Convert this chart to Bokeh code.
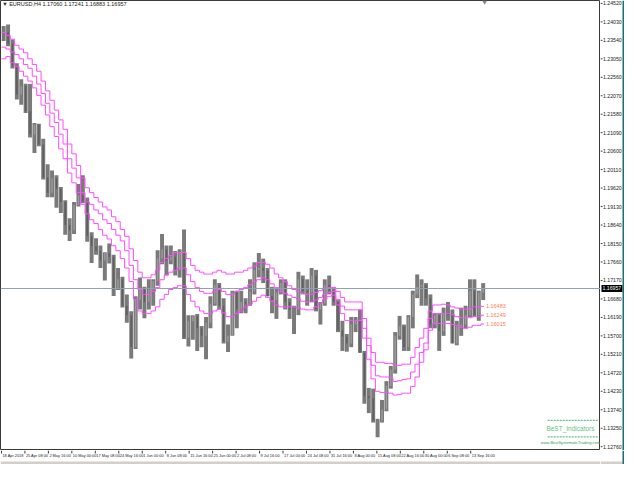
from bokeh.plotting import figure
from bokeh.layouts import column, row
from bokeh.models import Range1d, Span, Label, ColumnDataSource
from bokeh.core.properties import value
from bokeh.embed import file_html
from bokeh.resources import INLINE

# ---- EURUSD H4 (summarised per trading day, 18 Apr 2018 .. 18 Sep 2018) ----
opens = [1.2375, 1.2375, 1.2345, 1.2287, 1.2210, 1.2232, 1.2166, 1.2104, 1.2130,
         1.2078, 1.1990, 1.1950, 1.1988, 1.1960, 1.1925, 1.1864, 1.1850, 1.1917, 1.1943,
         1.1927, 1.1835, 1.1808, 1.1796, 1.1770, 1.1790, 1.1780, 1.1695, 1.1720, 1.1650,
         1.1625, 1.1540, 1.1665,
         1.1693, 1.1660, 1.1693, 1.1715, 1.1775, 1.1800, 1.1770, 1.1780, 1.1745, 1.1790,
         1.1566, 1.1609, 1.1622, 1.1590, 1.1570, 1.1605, 1.1655, 1.1705, 1.1650, 1.1555,
         1.1570,
         1.1685, 1.1640, 1.1660, 1.1656, 1.1688, 1.1745, 1.1750, 1.1743, 1.1675, 1.1665,
         1.1685, 1.1710, 1.1660, 1.1640, 1.1640, 1.1720, 1.1690, 1.1685, 1.1730, 1.1640,
         1.1655, 1.1705,
         1.1690, 1.1660, 1.1585, 1.1568, 1.1550, 1.1600, 1.1610, 1.1525, 1.1410, 1.1405,
         1.1345, 1.1345, 1.1375, 1.1437, 1.1480, 1.1570, 1.1595, 1.1540, 1.1620, 1.1680,
         1.1700, 1.1705, 1.1670,
         1.1600, 1.1625, 1.1583, 1.1630, 1.1625, 1.1550, 1.1595, 1.1600, 1.1625, 1.1690,
         1.1625, 1.1685]
highs = [1.2392, 1.2396, 1.2356, 1.2293, 1.2251, 1.2239, 1.2238, 1.2135, 1.2133,
         1.2093, 1.2025, 1.2009, 1.1996, 1.1965, 1.1930, 1.1882, 1.1925, 1.1973, 1.1996,
         1.1937, 1.1845, 1.1829, 1.1810, 1.1792, 1.1815, 1.1785, 1.1750, 1.1727, 1.1680,
         1.1635, 1.1675, 1.1725,
         1.1700, 1.1720, 1.1720, 1.1797, 1.1840, 1.1810, 1.1810, 1.1795, 1.1800, 1.1852,
         1.1625, 1.1625, 1.1628, 1.1596, 1.1620, 1.1675, 1.1720, 1.1710, 1.1670, 1.1600,
         1.1690,
         1.1690, 1.1690, 1.1670, 1.1720, 1.1765, 1.1790, 1.1775, 1.1750, 1.1700, 1.1695,
         1.1720, 1.1720, 1.1670, 1.1650, 1.1740, 1.1730, 1.1720, 1.1750, 1.1745, 1.1660,
         1.1720, 1.1730,
         1.1700, 1.1665, 1.1610, 1.1575, 1.1620, 1.1620, 1.1640, 1.1530, 1.1432, 1.1430,
         1.1350, 1.1400, 1.1450, 1.1490, 1.1580, 1.1623, 1.1600, 1.1625, 1.1690, 1.1733,
         1.1720, 1.1710, 1.1680,
         1.1630, 1.1630, 1.1645, 1.1660, 1.1640, 1.1610, 1.1645, 1.1650, 1.1720, 1.1720,
         1.1690, 1.1710]
lows = [1.2352, 1.2338, 1.2279, 1.2197, 1.2183, 1.2161, 1.2096, 1.2055, 1.2073,
        1.1985, 1.1938, 1.1938, 1.1910, 1.1896, 1.1838, 1.1822, 1.1840, 1.1913, 1.1922,
        1.1820, 1.1763, 1.1785, 1.1750, 1.1717, 1.1762, 1.1676, 1.1692, 1.1645, 1.1605,
        1.1510, 1.1535, 1.1640,
        1.1617, 1.1640, 1.1650, 1.1703, 1.1760, 1.1730, 1.1760, 1.1730, 1.1725, 1.1562,
        1.1542, 1.1560, 1.1530, 1.1540, 1.1508, 1.1590, 1.1650, 1.1640, 1.1550, 1.1527,
        1.1570,
        1.1590, 1.1630, 1.1630, 1.1650, 1.1680, 1.1725, 1.1710, 1.1675, 1.1630, 1.1615,
        1.1680, 1.1640, 1.1615, 1.1575, 1.1625, 1.1680, 1.1650, 1.1660, 1.1635, 1.1600,
        1.1650, 1.1680,
        1.1650, 1.1580, 1.1530, 1.1528, 1.1540, 1.1580, 1.1525, 1.1390, 1.1365, 1.1340,
        1.1301, 1.1340, 1.1370, 1.1430, 1.1470, 1.1560, 1.1530, 1.1530, 1.1590, 1.1670,
        1.1650, 1.1650, 1.1590,
        1.1590, 1.1530, 1.1570, 1.1610, 1.1550, 1.1545, 1.1570, 1.1590, 1.1620, 1.1620,
        1.1610, 1.1665]
closes = [1.2375, 1.2345, 1.2287, 1.2210, 1.2232, 1.2166, 1.2104, 1.2130, 1.2078,
          1.1990, 1.1950, 1.1988, 1.1960, 1.1925, 1.1864, 1.1850, 1.1917, 1.1943, 1.1927,
          1.1835, 1.1808, 1.1796, 1.1770, 1.1790, 1.1780, 1.1695, 1.1720, 1.1650, 1.1625,
          1.1540, 1.1665, 1.1693,
          1.1660, 1.1693, 1.1715, 1.1775, 1.1800, 1.1770, 1.1780, 1.1745, 1.1790, 1.1566,
          1.1609, 1.1622, 1.1590, 1.1570, 1.1605, 1.1655, 1.1705, 1.1650, 1.1555, 1.1570,
          1.1685,
          1.1640, 1.1660, 1.1656, 1.1688, 1.1745, 1.1750, 1.1743, 1.1675, 1.1665, 1.1685,
          1.1710, 1.1660, 1.1640, 1.1640, 1.1720, 1.1690, 1.1685, 1.1730, 1.1640, 1.1655,
          1.1705, 1.1690,
          1.1660, 1.1585, 1.1568, 1.1550, 1.1600, 1.1610, 1.1525, 1.1410, 1.1405, 1.1345,
          1.1345, 1.1375, 1.1437, 1.1480, 1.1570, 1.1595, 1.1540, 1.1620, 1.1680, 1.1700,
          1.1705, 1.1670, 1.1600,
          1.1625, 1.1583, 1.1630, 1.1625, 1.1550, 1.1595, 1.1600, 1.1625, 1.1690, 1.1625,
          1.1685, 1.16957]

# ---- stepped indicator lines (one value per trading day) ----
upper = [1.2375, 1.2367, 1.2357, 1.2341, 1.2331, 1.2321, 1.2305, 1.2290, 1.2272,
         1.2246, 1.2220, 1.2195, 1.2169, 1.2143, 1.2118, 1.2079, 1.2053, 1.2022, 1.1989,
         1.1963, 1.1950, 1.1937, 1.1925, 1.1912, 1.1904, 1.1886, 1.1873, 1.1852, 1.1834,
         1.1801, 1.1770, 1.1739,
         1.1724, 1.1724, 1.1732, 1.1744, 1.1765, 1.1775, 1.1783, 1.1791, 1.1791, 1.1791,
         1.1775, 1.1757, 1.1744, 1.1739, 1.1734, 1.1734, 1.1739, 1.1744, 1.1739, 1.1734,
         1.1734,
         1.1739, 1.1739, 1.1744, 1.1750, 1.1755, 1.1765, 1.1765, 1.1760, 1.1750, 1.1734,
         1.1724, 1.1714, 1.1703, 1.1693, 1.1688, 1.1683, 1.1680, 1.1680, 1.1685, 1.1690,
         1.1696, 1.1698,
         1.1698, 1.1688, 1.1672, 1.1660, 1.1660, 1.1660, 1.1660, 1.1616, 1.1564, 1.1526,
         1.1500, 1.1500, 1.1497, 1.1497, 1.1492, 1.1492, 1.1495, 1.1495, 1.1513, 1.1539,
         1.1564, 1.1590, 1.1636,
         1.1652, 1.1652, 1.1654, 1.1652, 1.1647, 1.1644, 1.1641, 1.1641, 1.1641, 1.1647,
         1.1647, 1.16483]
middle = [1.2336, 1.2331, 1.2323, 1.2316, 1.2305, 1.2290, 1.2280, 1.2259, 1.2238,
          1.2213, 1.2187, 1.2161, 1.2136, 1.2105, 1.2079, 1.2040, 1.2015, 1.1989, 1.1950,
          1.1925, 1.1919, 1.1904, 1.1894, 1.1878, 1.1868, 1.1852, 1.1837, 1.1822, 1.1796,
          1.1757, 1.1719, 1.1693,
          1.1680, 1.1680, 1.1688, 1.1698, 1.1719, 1.1732, 1.1739, 1.1744, 1.1750, 1.1750,
          1.1732, 1.1714, 1.1698, 1.1688, 1.1683, 1.1683, 1.1688, 1.1693, 1.1688, 1.1680,
          1.1680,
          1.1688, 1.1693, 1.1698, 1.1706, 1.1714, 1.1719, 1.1724, 1.1719, 1.1708, 1.1698,
          1.1688, 1.1683, 1.1678, 1.1672, 1.1667, 1.1662, 1.1660, 1.1660, 1.1665, 1.1672,
          1.1680, 1.1685,
          1.1688, 1.1667, 1.1649, 1.1639, 1.1639, 1.1639, 1.1639, 1.1590, 1.1544, 1.1492,
          1.1464, 1.1461, 1.1461, 1.1459, 1.1449, 1.1451, 1.1454, 1.1456, 1.1474, 1.1495,
          1.1526, 1.1551, 1.1616,
          1.1629, 1.1629, 1.1629, 1.1629, 1.1626, 1.1621, 1.1618, 1.1618, 1.1618, 1.1621,
          1.1621, 1.16249]
lower = [1.2305, 1.2311, 1.2295, 1.2285, 1.2272, 1.2259, 1.2246, 1.2228, 1.2208,
         1.2182, 1.2156, 1.2125, 1.2099, 1.2066, 1.2040, 1.2002, 1.1976, 1.1950, 1.1919,
         1.1894, 1.1878, 1.1868, 1.1852, 1.1837, 1.1827, 1.1809, 1.1796, 1.1775, 1.1750,
         1.1714, 1.1667, 1.1636,
         1.1629, 1.1629, 1.1636, 1.1647, 1.1667, 1.1680, 1.1693, 1.1698, 1.1703, 1.1703,
         1.1680, 1.1662, 1.1647, 1.1636, 1.1629, 1.1629, 1.1636, 1.1641, 1.1631, 1.1621,
         1.1621,
         1.1629, 1.1636, 1.1647, 1.1654, 1.1662, 1.1672, 1.1678, 1.1672, 1.1662, 1.1652,
         1.1647, 1.1647, 1.1647, 1.1647, 1.1644, 1.1641, 1.1639, 1.1639, 1.1647, 1.1657,
         1.1667, 1.1675,
         1.1678, 1.1652, 1.1629, 1.1611, 1.1611, 1.1611, 1.1611, 1.1564, 1.1508, 1.1456,
         1.1423, 1.1420, 1.1420, 1.1418, 1.1413, 1.1415, 1.1418, 1.1418, 1.1436, 1.1461,
         1.1500, 1.1533, 1.1585,
         1.1603, 1.1603, 1.1603, 1.1603, 1.1600, 1.1598, 1.1593, 1.1590, 1.1593, 1.1598,
         1.1598, 1.16015]

# ---- scales ----
price_ticks = [1.24520, 1.24030, 1.23540, 1.23050, 1.22560, 1.22070, 1.21580, 1.21090,
               1.20600, 1.20110, 1.19620, 1.19130, 1.18640, 1.18150, 1.17660, 1.17170,
               1.16680, 1.16190, 1.15700, 1.15210, 1.14720, 1.14230, 1.13740, 1.13250,
               1.12760]
time_labels = ["18 Apr 2018", "25 Apr 08:00", "2 May 16:00", "10 May 00:00", "17 May 08:00",
               "24 May 16:00", "1 Jun 00:00", "8 Jun 08:00", "15 Jun 16:00", "25 Jun 00:00",
               "2 Jul 08:00", "9 Jul 16:00", "17 Jul 00:00", "24 Jul 08:00", "31 Jul 16:00",
               "8 Aug 00:00", "15 Aug 08:00", "22 Aug 16:00", "30 Aug 00:00", "6 Sep 08:00",
               "13 Sep 16:00"]
bars_per_label = 32
bars_per_day = 6
last_price = 1.16957
header = "\u25bc EURUSD,H4  1.17060 1.17241 1.16883 1.16957"

FONT = "Liberation Sans"
AX = "#3a3a3a"
Y0, Y1 = 1.12659, 1.24597
X0, X1 = -1.3, 817
MAIN_W, MAIN_H = 600, 450
SCALE_W, SCALE_H = 24, 14

n = len(highs)
xc = [bars_per_day * d + 3 for d in range(n)]
src = ColumnDataSource(dict(
    x=xc, high=highs, low=lows,
    top=[max(o, c) for o, c in zip(opens, closes)],
    bot=[min(o, c) for o, c in zip(opens, closes)],
    col=["#9a9a9a" if c >= o else "#5e5e5e" for o, c in zip(opens, closes)],
))


def bare(fig):
    fig.xgrid.visible = False
    fig.ygrid.visible = False
    fig.background_fill_color = "white"
    fig.border_fill_color = "white"
    return fig


# ---------------- main chart ----------------
p = bare(figure(width=MAIN_W, height=MAIN_H, x_range=Range1d(X0, X1), y_range=Range1d(Y0, Y1),
                output_backend="svg", toolbar_location=None, x_axis_location=None,
                y_axis_location=None, min_border=0))
p.outline_line_color = AX

p.add_layout(Span(location=last_price, dimension="width", line_color="#8ea0b3", line_width=1))

p.vbar(x="x", bottom="low", top="high", width=5.4, source=src, fill_color="#7a7a7a",
       line_color=None)
p.vbar(x="x", bottom="bot", top="top", width=2.0, source=src, fill_color="col", line_color=None)

end_x = bars_per_day * n - 2
for series in (upper, middle, lower):
    xs = [bars_per_day * d for d in range(n)] + [end_x]
    ys = list(series) + [series[-1]]
    p.step(xs, ys, mode="after", line_color="#ff4dff", line_width=1)
    p.add_layout(Label(x=end_x, y=series[-1], text="%.5f" % series[-1], x_offset=2,
                       text_font=FONT, text_font_size="5.5px", text_color="#ff7b52",
                       text_baseline="middle", text_align="left"))

p.add_layout(Label(x=1, y=1.2458, text=header, text_font=FONT, text_font_size="5.5px",
                   text_color="#222222", text_baseline="top", text_align="left"))

p.scatter([659], [1.2456], marker="inverted_triangle", size=5, fill_color="#888888",
          line_color=None)

p.segment(x0=[745, 745], y0=[1.1346, 1.1302], x1=[814, 814], y1=[1.1346, 1.1302],
          line_color="#3cb371", line_dash="2 1", line_width=1)
p.add_layout(Label(x=776, y=1.1325, text="BeST_Indicators", text_font=FONT,
                   text_font_size="6.5px", text_color="#5fc77f", text_align="center",
                   text_baseline="middle"))
p.add_layout(Label(x=776, y=1.1288, text="www.BestSystematicTrading.com", text_font=FONT,
                   text_font_size="4px", text_color="#2ea44f", text_align="center",
                   text_baseline="middle"))

# ---------------- price scale (right) ----------------
pr = bare(figure(width=SCALE_W, height=MAIN_H, x_range=Range1d(0, SCALE_W), y_range=p.y_range,
                 output_backend="svg", toolbar_location=None, x_axis_location=None,
                 y_axis_location=None, min_border=0))
pr.outline_line_color = None
pr.segment(x0=[0] * len(price_ticks), x1=[2] * len(price_ticks), y0=price_ticks,
           y1=price_ticks, line_color=AX, line_width=1)
pr.text(x=[2.5] * len(price_ticks), y=price_ticks, text=["%.5f" % v for v in price_ticks],
        text_font=value(FONT), text_font_size="5.2px", text_color="#222222",
        text_align="left", text_baseline="middle")
pr.rect(x=[11.5], y=[last_price], width=[21], height=[7], height_units="screen",
        fill_color="black", line_color=None)
pr.text(x=[2], y=[last_price], text=["%.5f" % last_price], text_font=value(FONT),
        text_font_size="5.2px", text_color="white", text_align="left", text_baseline="middle")
pr.quad(left=[SCALE_W - 2], right=[SCALE_W], bottom=[Y0], top=[Y1], fill_color="#1f6f6f",
        line_color=None)

# ---------------- time scale (bottom) ----------------
xt = [bars_per_label * k for k in range(len(time_labels))]
pb = bare(figure(width=MAIN_W, height=SCALE_H, x_range=p.x_range, y_range=Range1d(0, SCALE_H),
                 output_backend="svg", toolbar_location=None, x_axis_location=None,
                 y_axis_location=None, min_border=0))
pb.outline_line_color = None
pb.segment(x0=xt, x1=xt, y0=[SCALE_H] * len(xt), y1=[SCALE_H - 3] * len(xt), line_color=AX)
pb.text(x=xt, y=[SCALE_H - 2.5] * len(xt), text=time_labels, x_offset=1,
        text_font=value(FONT), text_font_size="3.9px", text_color="#222222",
        text_align="left", text_baseline="top")
pb.quad(left=[X0], right=[X1], bottom=[0], top=[3], fill_color="#d4d0c8", line_color=None)

corner = bare(figure(width=SCALE_W, height=SCALE_H, x_range=Range1d(0, SCALE_W),
                     y_range=Range1d(0, SCALE_H), output_backend="svg", toolbar_location=None,
                     x_axis_location=None, y_axis_location=None, min_border=0))
corner.outline_line_color = None
corner.quad(left=[0, SCALE_W - 2], right=[SCALE_W, SCALE_W], bottom=[0, 0], top=[3, SCALE_H],
            fill_color=["#d4d0c8", "#1f6f6f"], line_color=None)

layout = column(row(p, pr, spacing=0), row(pb, corner, spacing=0), spacing=0)
open("out.html", "w").write(file_html(layout, INLINE))
